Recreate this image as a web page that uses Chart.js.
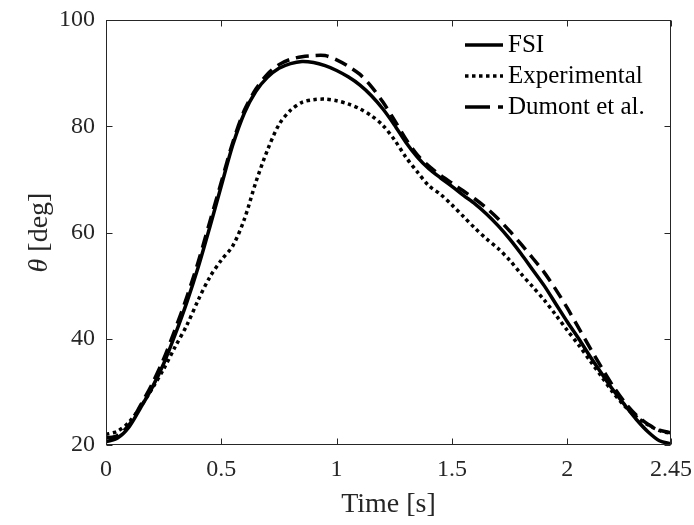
<!DOCTYPE html>
<html><head><meta charset="utf-8">
<script src="https://cdn.jsdelivr.net/npm/chart.js@4.4.1/dist/chart.umd.min.js"></script>
<style>html,body{margin:0;padding:0;background:#fff;} canvas{display:block;}</style>
</head><body>
<canvas id="c" width="694" height="525"></canvas>
<script>
// ---- data ----
const timeS = [0.00,0.05,0.10,0.15,0.20,0.25,0.30,0.35,0.40,0.45,0.50,0.55,0.60,0.65,0.70,0.75,0.80,0.85,0.90,0.95,
               1.00,1.05,1.10,1.15,1.20,1.25,1.30,1.35,1.40,1.45,1.50,1.55,1.60,1.65,1.70,1.75,1.80,1.85,1.90,1.95,
               2.00,2.05,2.10,2.15,2.20,2.25,2.30,2.35,2.40,2.45];
const fsi = [20.6,21.3,23.4,27.0,30.8,35.3,40.8,46.8,53.5,61.0,68.8,76.5,82.5,86.6,89.2,90.9,91.8,92.2,92.0,91.4,
             90.5,89.3,87.8,85.8,83.3,80.3,77.0,74.2,72.0,70.3,68.7,67.0,65.4,63.5,61.3,58.8,56.0,53.0,50.0,46.6,
             43.2,40.0,36.6,33.4,30.3,27.5,24.8,22.5,20.8,20.2];
const experimental = [22.0,22.6,24.3,27.2,30.6,34.3,38.5,42.5,47.3,51.6,54.8,57.5,62.5,69.5,75.5,80.3,83.0,84.5,85.0,85.1,
             84.8,84.2,83.3,82.0,80.2,77.5,74.2,71.4,68.8,67.2,65.2,63.0,60.8,58.8,57.0,54.8,52.2,49.8,47.3,44.5,
             41.6,38.8,35.8,32.8,29.8,27.3,25.3,23.8,22.7,22.2];
const dumont = [21.3,21.8,23.8,27.5,31.5,36.2,41.8,47.8,54.5,62.0,69.5,77.0,83.0,87.0,89.8,91.6,92.6,93.1,93.3,93.3,
             92.5,91.3,89.8,87.5,84.6,81.2,77.6,74.6,72.5,70.8,69.3,67.8,66.3,64.6,62.6,60.3,57.8,55.2,52.5,49.3,
             45.8,42.0,38.2,34.5,31.0,28.0,25.6,23.9,22.8,22.3];
const xTicks = [0, 0.5, 1, 1.5, 2, 2.45];
const xTickLabels = ['0', '0.5', '1', '1.5', '2', '2.45'];
const yTicks = [20, 40, 60, 80, 100];
const seriesNames = ['FSI', 'Experimental', 'Dumont et al.'];

// ---- styles ----
const AXIS = '#262626';
const SERIF = '"Liberation Serif", "DejaVu Serif", serif';
const dashes = [[], [3.5, 3.5], [13, 7]];
const seriesValues = [fsi, experimental, dumont];

const datasets = seriesValues.map((vals, i) => ({
  label: seriesNames[i],
  data: timeS.map((t, k) => ({x: t, y: vals[k]})),
  borderColor: '#000',
  backgroundColor: '#000',
  borderWidth: 3.5,
  borderDash: dashes[i],
  borderCapStyle: 'butt',
  pointRadius: 0,
  fill: false,
  tension: 0.3
}));

const framePlugin = {
  id: 'frame',
  afterDraw(chart) {
    const ctx = chart.ctx;
    const a = chart.chartArea;
    const xs = chart.scales.x, ys = chart.scales.y;
    ctx.save();
    ctx.strokeStyle = AXIS;
    ctx.lineWidth = 1;
    ctx.setLineDash([]);
    const L = Math.round(a.left) + 0.5, R = Math.round(a.right) - 0.5;
    const T = Math.round(a.top) + 0.5, B = Math.round(a.bottom) - 0.5;
    ctx.strokeRect(L, T, R - L, B - T);
    const tl = 6;
    ctx.beginPath();
    xTicks.forEach(v => {
      const px = Math.round(xs.getPixelForValue(v)) + 0.5;
      ctx.moveTo(px, B); ctx.lineTo(px, B - tl);
      ctx.moveTo(px, T); ctx.lineTo(px, T + tl);
    });
    yTicks.forEach(v => {
      const py = Math.round(ys.getPixelForValue(v)) + 0.5;
      ctx.moveTo(L, py); ctx.lineTo(L + tl, py);
      ctx.moveTo(R, py); ctx.lineTo(R - tl, py);
    });
    ctx.stroke();

    // legend
    ctx.fillStyle = '#000';
    ctx.font = '25px ' + SERIF;
    ctx.textBaseline = 'middle';
    ctx.textAlign = 'left';
    seriesNames.forEach((name, i) => {
      const y = 45 + i * 31;
      ctx.save();
      ctx.strokeStyle = '#000';
      ctx.lineWidth = 3.5;
      ctx.lineCap = 'butt';
      ctx.setLineDash(i === 1 ? [3.5, 3.5] : (i === 2 ? [25, 8] : []));
      ctx.beginPath();
      ctx.moveTo(465, y); ctx.lineTo(503, y);
      ctx.stroke();
      ctx.restore();
      ctx.fillText(name, 508, y);
    });

    // axis titles
    ctx.fillStyle = AXIS;
    ctx.font = '28px ' + SERIF;
    ctx.textAlign = 'center';
    ctx.textBaseline = 'middle';
    ctx.fillText('Time [s]', (a.left + a.right) / 2, 505);

    ctx.translate(40, (a.top + a.bottom) / 2);
    ctx.rotate(-Math.PI / 2);
    const f1 = 'italic 28px ' + SERIF, f2 = '28px ' + SERIF;
    ctx.font = f1; const w1 = ctx.measureText('θ').width;
    ctx.font = f2; const w2 = ctx.measureText(' [deg]').width;
    const x0 = -(w1 + w2) / 2;
    ctx.textAlign = 'left';
    ctx.font = f1; ctx.fillText('θ', x0, 0);
    ctx.font = f2; ctx.fillText(' [deg]', x0 + w1, 0);
    ctx.restore();
  }
};

new Chart(document.getElementById('c'), {
  type: 'line',
  data: { datasets },
  options: {
    responsive: false,
    animation: false,
    devicePixelRatio: 1,
    layout: { padding: { left: 0, right: 23, top: 20, bottom: 0 } },
    plugins: { legend: { display: false }, tooltip: { enabled: false } },
    scales: {
      x: {
        type: 'linear', min: 0, max: 2.45,
        afterBuildTicks: s => { s.ticks = xTicks.map(v => ({ value: v })); },
        afterFit: s => { s.height = 80; s.paddingLeft = 0; s.paddingRight = 0; },
        grid: { display: false, drawTicks: false },
        border: { display: false },
        ticks: {
          autoSkip: false, maxRotation: 0, padding: 10, color: AXIS,
          font: { family: SERIF, size: 24 },
          callback: (v, i) => xTickLabels[i]
        }
      },
      y: {
        type: 'linear', min: 20, max: 100,
        afterBuildTicks: s => { s.ticks = yTicks.map(v => ({ value: v })); },
        afterFit: s => { s.width = 106; s.paddingTop = 0; s.paddingBottom = 0; },
        grid: { display: false, drawTicks: false },
        border: { display: false },
        ticks: { padding: 11, color: AXIS, font: { family: SERIF, size: 24 } }
      }
    }
  },
  plugins: [framePlugin]
});
</script>
</body></html>
